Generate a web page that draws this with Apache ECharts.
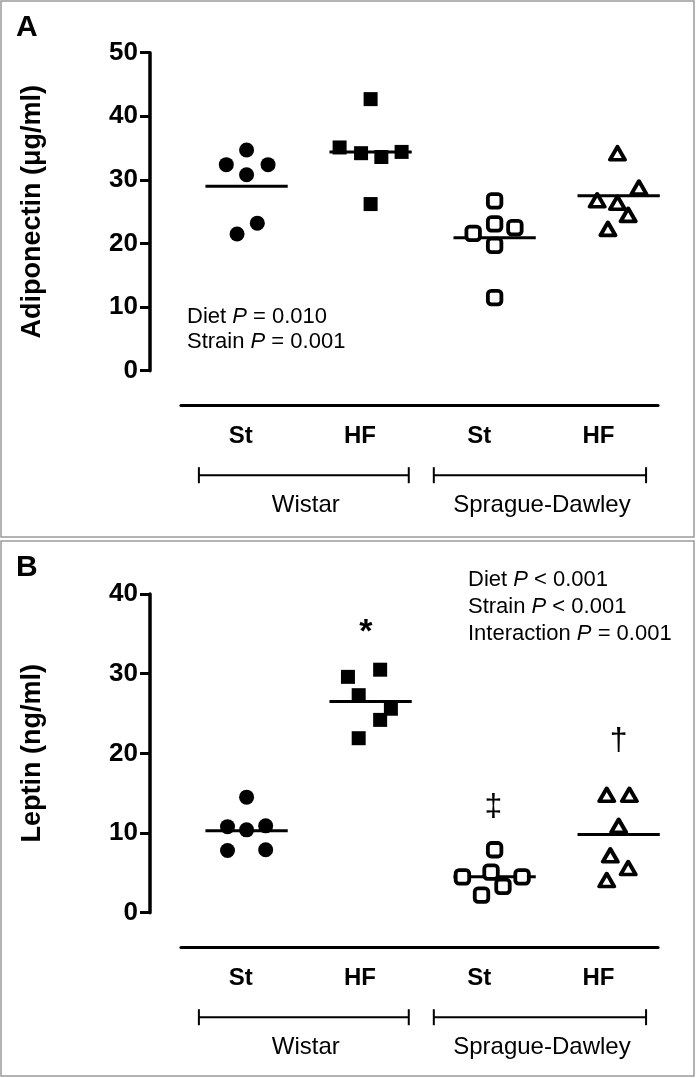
<!DOCTYPE html>
<html><head><meta charset="utf-8">
<script src="https://cdn.jsdelivr.net/npm/echarts@6/dist/echarts.min.js"></script>
<style>html,body{margin:0;padding:0;background:#fff}#c{width:696px;height:1078px}</style>
</head><body><div id="c"></div>
<script>
// ---------- data ----------
const groupLabels = ['St', 'HF', 'St', 'HF'];
const strainLabels = ['Wistar', 'Sprague-Dawley'];
const adipoTicks = [0, 10, 20, 30, 40, 50];
const leptinTicks = [0, 10, 20, 30, 40];
const adipoTitle = 'Adiponectin (\u03bcg/ml)';
const leptinTitle = 'Leptin (ng/ml)';

// [x position within category axis units, value]
const adipoWistarSt = [[0.05, 34.7], [-0.12, 32.4], [0.23, 32.4], [0.05, 30.8], [0.14, 23.2], [-0.03, 21.5]];
const adipoWistarHF = [[1.09, 42.7], [0.83, 35.1], [1.01, 34.2], [1.18, 33.6], [1.35, 34.4], [1.09, 26.2]];
const adipoSdSt = [[2.13, 26.7], [2.13, 23.1], [1.95, 21.6], [2.30, 22.5], [2.13, 19.7], [2.13, 11.5]];
const adipoSdHF = [[3.16, 34.2], [3.34, 28.8], [2.99, 26.8], [3.16, 26.4], [3.25, 24.5], [3.08, 22.3]];
const adipoMeans = [29.0, 34.4, 20.9, 27.5];

const leptinWistarSt = [[0.05, 14.5], [-0.11, 10.8], [0.05, 10.4], [0.21, 10.9], [-0.11, 7.8], [0.21, 7.9]];
const leptinWistarHF = [[1.17, 30.5], [0.90, 29.6], [0.99, 27.3], [1.26, 25.6], [1.17, 24.2], [0.99, 21.9]];
const leptinSdSt = [[2.13, 7.9], [1.86, 4.5], [2.10, 5.1], [2.36, 4.5], [2.20, 3.3], [2.02, 2.2]];
const leptinSdHF = [[3.07, 14.8], [3.26, 14.8], [3.17, 10.9], [3.10, 7.2], [3.25, 5.6], [3.07, 4.1]];
const leptinMeans = [10.3, 26.5, 4.5, 9.8];

const meanCenters = [0.05, 1.09, 2.13, 3.17];
const adipoStats = [['Diet', '=', '0.010'], ['Strain', '=', '0.001']];
const leptinStats = [['Diet', '<', '0.001'], ['Strain', '<', '0.001'], ['Interaction', '=', '0.001']];
// significance marks for leptin panel: [symbol, x, value]
const leptinSig = [['*', 1.05, 35.2], ['\u2021', 2.12, 13.3], ['\u2020', 3.17, 21.5]];

// ---------- layout / style ----------
const FONT = '"Liberation Sans", Arial, Helvetica, sans-serif';
const AX_OFFSET = 35;
const MEAN_HALF = 0.345;
const strainSpans = [[-0.35, 1.41], [1.62, 3.40]];

const chart = echarts.init(document.getElementById('c'), null, {renderer: 'canvas'});

function catAxis(gi) {
  return {
    gridIndex: gi, type: 'category', data: groupLabels, offset: AX_OFFSET,
    axisLine: {onZero: false, lineStyle: {color: '#000', width: 3.2}},
    axisTick: {alignWithLabel: true, length: 8, lineStyle: {color: '#000', width: 3}},
    axisLabel: {color: '#000', fontFamily: FONT, fontWeight: 'bold', fontSize: 24, margin: 19},
    splitLine: {show: false}
  };
}
function valXAxis(gi) {
  return {gridIndex: gi, type: 'value', min: -0.5, max: 3.5, show: false, axisLine: {onZero: false}};
}
function yAxis(gi, ticks, name) {
  return {
    gridIndex: gi, type: 'value', min: ticks[0], max: ticks[ticks.length - 1],
    interval: ticks[1] - ticks[0], offset: 31, position: 'left',
    axisLine: {show: true, onZero: false, lineStyle: {color: '#000', width: 3.5}},
    axisTick: {show: true, length: 10, lineStyle: {color: '#000', width: 3}},
    axisLabel: {color: '#000', fontFamily: FONT, fontWeight: 'bold', fontSize: 26, margin: 12},
    splitLine: {show: false},
    name: name, nameLocation: 'middle', nameGap: 104,
    nameTextStyle: {color: '#000', fontFamily: FONT, fontWeight: 'bold', fontSize: 27}
  };
}
function scat(data, xi, yi, symbol, filled, size) {
  return {
    type: 'scatter', xAxisIndex: xi, yAxisIndex: yi, data: data, symbol: symbol, symbolSize: size,
    z: 3, silent: true,
    itemStyle: filled ? {color: '#000', opacity: 1}
      : {color: '#fff', borderColor: '#000', borderWidth: 3.8, borderJoin: 'round', opacity: 1}
  };
}
function meanLines(means, xi, yi) {
  return means.map((m, i) => ({
    type: 'line', xAxisIndex: xi, yAxisIndex: yi, symbol: 'none', silent: true, z: 2,
    data: [[meanCenters[i] - MEAN_HALF, m], [meanCenters[i] + MEAN_HALF, m]],
    lineStyle: {color: '#000', width: 3}
  }));
}

const series = [
  ...meanLines(adipoMeans, 1, 0),
  scat(adipoWistarSt, 1, 0, 'circle', true, 15),
  scat(adipoWistarHF, 1, 0, 'rect', true, 14),
  scat(adipoSdSt, 1, 0, 'roundRect', false, 13.5),
  scat(adipoSdHF, 1, 0, 'triangle', false, [15, 13]),
  ...meanLines(leptinMeans, 3, 1),
  scat(leptinWistarSt, 3, 1, 'circle', true, 15),
  scat(leptinWistarHF, 3, 1, 'rect', true, 14),
  scat(leptinSdSt, 3, 1, 'roundRect', false, 13.5),
  scat(leptinSdHF, 3, 1, 'triangle', false, [15, 13])
];

chart.setOption({
  animation: false,
  backgroundColor: '#fff',
  grid: [
    {left: 181, top: 52.7, width: 477, height: 318},
    {left: 181, top: 594, width: 477, height: 318.7}
  ],
  xAxis: [catAxis(0), valXAxis(0), catAxis(1), valXAxis(1)],
  yAxis: [yAxis(0, adipoTicks, adipoTitle), yAxis(1, leptinTicks, leptinTitle)],
  series: series
});

// ---------- annotations ----------
const g = [];
g.push({type: 'rect', shape: {x: 1, y: 1, width: 693, height: 536}, style: {fill: 'none', stroke: '#9a9a9a', lineWidth: 1.5}, silent: true});
g.push({type: 'rect', shape: {x: 1, y: 541, width: 693, height: 535}, style: {fill: 'none', stroke: '#9a9a9a', lineWidth: 1.5}, silent: true});
g.push({type: 'text', style: {x: 16, y: 13, text: 'A', font: 'bold 30px ' + FONT, fill: '#000'}});
g.push({type: 'text', style: {x: 16, y: 553, text: 'B', font: 'bold 30px ' + FONT, fill: '#000'}});

function px(xi, yi, u, v) { return chart.convertToPixel({xAxisIndex: xi, yAxisIndex: yi}, [u, v]); }

[[1, 0], [3, 1]].forEach(([xi, yi]) => {
  const axisY = px(xi, yi, 0, 0)[1] + AX_OFFSET;
  const by = axisY + 69.5;
  strainSpans.forEach((sp, k) => {
    const x0 = px(xi, yi, sp[0], 0)[0], x1 = px(xi, yi, sp[1], 0)[0];
    g.push({type: 'line', shape: {x1: x0, y1: by, x2: x1, y2: by}, style: {stroke: '#000', lineWidth: 2}, silent: true});
    g.push({type: 'line', shape: {x1: x0, y1: by - 8, x2: x0, y2: by + 8}, style: {stroke: '#000', lineWidth: 2}, silent: true});
    g.push({type: 'line', shape: {x1: x1, y1: by - 8, x2: x1, y2: by + 8}, style: {stroke: '#000', lineWidth: 2}, silent: true});
    g.push({type: 'text', style: {x: (x0 + x1) / 2 + 2, y: by + 30, text: strainLabels[k], font: '24px ' + FONT, fill: '#000', align: 'center', verticalAlign: 'middle'}});
  });
});

function statText(lines, x, y0, step) {
  lines.forEach((l, i) => {
    g.push({type: 'text', style: {
      x: x, y: y0 + i * step, verticalAlign: 'middle',
      text: '{n|' + l[0] + ' }{i|P}{n| ' + l[1] + ' ' + l[2] + '}',
      rich: {n: {font: '22px ' + FONT, fill: '#000'}, i: {font: 'italic 22px ' + FONT, fill: '#000'}}
    }});
  });
}
statText(adipoStats, 187, 317, 25);
statText(leptinStats, 468, 580, 27);

leptinSig.forEach(s => {
  const p = px(3, 1, s[1], s[2]);
  g.push({type: 'text', style: {x: p[0], y: p[1], text: s[0], align: 'center', verticalAlign: 'middle',
    font: (s[0] === '*' ? 'bold 34px ' : '32px ') + FONT, fill: '#000'}});
});

chart.setOption({graphic: g});
</script></body></html>
